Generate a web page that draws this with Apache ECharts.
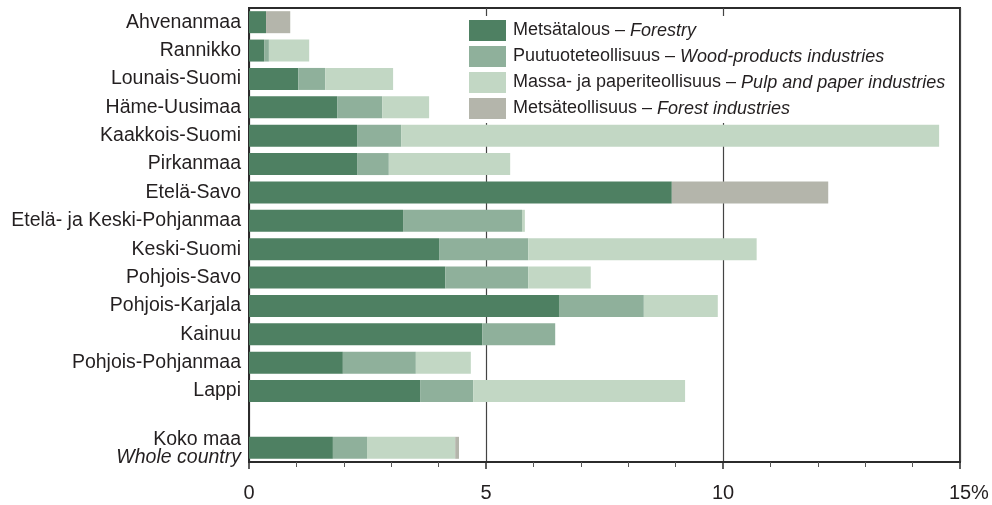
<!DOCTYPE html>
<html>
<head>
<meta charset="utf-8">
<script src="https://cdn.jsdelivr.net/npm/echarts@6/dist/echarts.min.js"></script>
<style>
  html, body { margin: 0; padding: 0; background: #fff; }
  #chart { width: 992px; height: 505px; }
</style>
</head>
<body>
<div id="chart"></div>
<script>
// regions, top to bottom ('' is the empty gap row)
const regions = ['Ahvenanmaa', 'Rannikko', 'Lounais-Suomi', 'Häme-Uusimaa', 'Kaakkois-Suomi',
  'Pirkanmaa', 'Etelä-Savo', 'Etelä- ja Keski-Pohjanmaa', 'Keski-Suomi', 'Pohjois-Savo',
  'Pohjois-Karjala', 'Kainuu', 'Pohjois-Pohjanmaa', 'Lappi', '', 'Koko maa']

// share in %
const forestry = [0.36, 0.32, 1.04, 1.86, 2.28, 2.28, 8.92, 3.25, 4.01, 4.14, 6.54, 4.92, 1.98, 3.61, null, 1.77]
const woodProducts = [0, 0.10, 0.57, 0.95, 0.93, 0.67, 0, 2.51, 1.88, 1.75, 1.79, 1.54, 1.54, 1.12, null, 0.72]
const pulpPaper = [0, 0.85, 1.43, 0.99, 11.35, 2.56, 0, 0.06, 4.82, 1.32, 1.56, 0, 1.16, 4.47, null, 1.86]
const forestInd = [0.51, 0, 0, 0, 0, 0, 3.30, 0, 0, 0, 0, 0, 0, 0, null, 0.08]

const xTicks = [0, 5, 10, 15]

const seriesNames = ['Metsätalous', 'Puutuoteteollisuus', 'Massa- ja paperiteollisuus', 'Metsäteollisuus']
const seriesEnglish = ['Forestry', 'Wood-products industries', 'Pulp and paper industries', 'Forest industries']
const colors = ['#4e8062', '#8fb09b', '#c2d7c4', '#b4b5ab']

const font = "'Liberation Sans', Arial, sans-serif"
const ink = '#231f20'

const chart = echarts.init(document.getElementById('chart'))

function bar(i, data) {
  return {
    name: seriesNames[i],
    type: 'bar',
    stack: 'total',
    barWidth: 22,
    itemStyle: { color: colors[i] },
    data: data
  }
}

const option = {
  animation: false,
  textStyle: { fontFamily: font },
  grid: {
    left: 249, right: 32, top: 8, bottom: 43,
    outerBoundsMode: 'none',
    show: true, borderColor: '#2b2b2b', borderWidth: 2
  },
  legend: {
    orient: 'vertical',
    left: 461, top: 16,
    padding: [4, 8, 4, 8],
    backgroundColor: '#fff',
    itemWidth: 37, itemHeight: 21, itemGap: 5,
    icon: 'rect',
    data: seriesNames,
    formatter: name => {
      const i = seriesNames.indexOf(name)
      return name + ' – {i|' + seriesEnglish[i] + '}'
    },
    textStyle: {
      fontFamily: font, fontSize: 18, color: ink,
      padding: [0, 0, 0, 2],
      rich: { i: { fontFamily: font, fontSize: 18, fontStyle: 'italic', color: ink } }
    }
  },
  xAxis: {
    type: 'value',
    min: 0, max: 15, interval: 5,
    axisLine: { show: true, lineStyle: { color: '#2b2b2b', width: 2 } },
    axisTick: { show: true, length: 7, lineStyle: { color: '#2b2b2b', width: 1.5 } },
    minorTick: { show: true, splitNumber: 5, length: 5, lineStyle: { color: '#555', width: 1 } },
    splitLine: { show: true, lineStyle: { color: '#444', width: 1.2 } },
    axisLabel: {
      margin: 21,
      fontFamily: font, fontSize: 20, color: ink,
      formatter: v => v === xTicks[xTicks.length - 1] ? '{h|%}' + v + '%' : String(v),
      rich: { h: { fontFamily: font, fontSize: 20, color: 'rgba(0,0,0,0)' } }
    }
  },
  yAxis: {
    type: 'category',
    inverse: true,
    data: regions,
    axisLine: { show: true, lineStyle: { color: '#2b2b2b', width: 2 } },
    axisTick: { show: false },
    axisLabel: {
      interval: 0,
      margin: 8,
      fontFamily: font, fontSize: 19.5, color: ink, lineHeight: 19,
      formatter: v => v === 'Koko maa' ? '{k|Koko maa}\n{i|Whole country}' : v,
      rich: {
        k: { fontFamily: font, fontSize: 19.5, color: ink, lineHeight: 20, padding: [4, 0, 0, 0] },
        i: { fontFamily: font, fontSize: 19.5, fontStyle: 'italic', color: ink, lineHeight: 20 }
      }
    }
  },
  series: [
    bar(0, forestry),
    bar(1, woodProducts),
    bar(2, pulpPaper),
    bar(3, forestInd)
  ]
}

chart.setOption(option)
</script>
</body>
</html>
